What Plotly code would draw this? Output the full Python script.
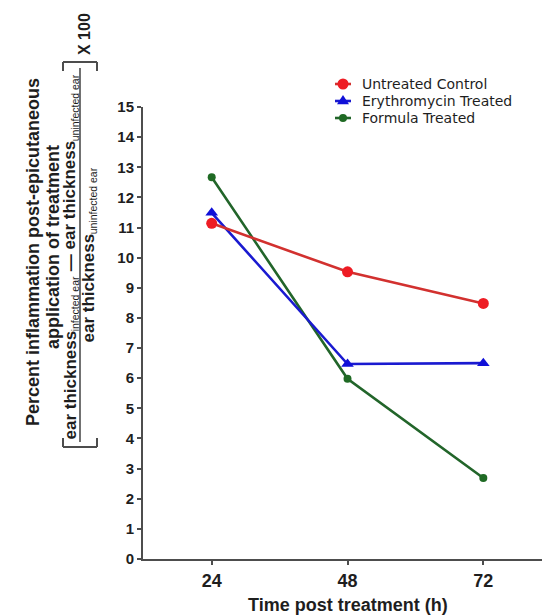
import plotly.graph_objects as go

# ---- data ----
hours = [24, 48, 72]
untreated = [11.14, 9.53, 8.48]
erythromycin = [11.49, 6.47, 6.50]
formula = [12.67, 5.98, 2.69]

series_names = ["Untreated Control", "Erythromycin Treated", "Formula Treated"]
x_ticks = [24, 48, 72]
y_ticks = list(range(0, 16))

# ---- layout constants (pixels) ----
W, H = 542, 615
L, R, T, B = 143, 0, 107, 56
PW, PH = W - L - R, H - T - B
FONT = "Liberation Sans, Arial, sans-serif"
LEG_FONT = "DejaVu Sans, sans-serif"
TXT = "#1e1e1e"
AX = "#4d4d4d"

def xp(px):
    return (px - L) / PW

def yp(py):
    return (H - B - py) / PH

styles = {
    "Untreated Control": dict(line="#d2312f", marker="#ee1c24", symbol="circle", size=11),
    "Erythromycin Treated": dict(line="#1a1ad0", marker="#1010d8", symbol="triangle-up", size=11),
    "Formula Treated": dict(line="#22652a", marker="#1f6a24", symbol="circle", size=8),
}
values = {"Untreated Control": untreated, "Erythromycin Treated": erythromycin, "Formula Treated": formula}

fig = go.Figure()
for name in ["Formula Treated", "Erythromycin Treated", "Untreated Control"]:
    st = styles[name]
    fig.add_trace(go.Scatter(
        x=hours, y=values[name], mode="lines+markers", name=name,
        line=dict(color=st["line"], width=2.6),
        marker=dict(color=st["marker"], symbol=st["symbol"], size=st["size"], line=dict(width=0)),
        showlegend=False,
    ))

shapes = []
annotations = []

# ---- manual legend (compact rows like the reference) ----
leg_x_sym = 343
leg_x_txt = 361
leg_rows = [84, 101, 118]
for name, py in zip(series_names, leg_rows):
    st = styles[name]
    shapes.append(dict(type="line", xref="paper", yref="paper",
                       x0=xp(leg_x_sym - 8), x1=xp(leg_x_sym + 8), y0=yp(py), y1=yp(py),
                       line=dict(color=st["line"], width=2.6)))
    r = st["size"] / 2
    if st["symbol"] == "circle":
        shapes.append(dict(type="circle", xref="paper", yref="paper",
                           x0=xp(leg_x_sym - r), x1=xp(leg_x_sym + r),
                           y0=yp(py + r), y1=yp(py - r),
                           fillcolor=st["marker"], line=dict(width=0)))
    else:
        path = "M {:.5f},{:.5f} L {:.5f},{:.5f} L {:.5f},{:.5f} Z".format(
            xp(leg_x_sym), yp(py - r - 0.5),
            xp(leg_x_sym - r - 0.5), yp(py + r * 0.6),
            xp(leg_x_sym + r + 0.5), yp(py + r * 0.6))
        shapes.append(dict(type="path", xref="paper", yref="paper", path=path,
                           fillcolor=st["marker"], line=dict(width=0)))
    annotations.append(dict(xref="paper", yref="paper", x=xp(leg_x_txt), y=yp(py),
                            xanchor="left", yanchor="middle", showarrow=False, borderpad=0,
                            text=name, font=dict(family=LEG_FONT, size=14, color=TXT)))

# ---- y-axis label block ----
def rot_text(text, px, py, size, bold=True, yanchor="middle"):
    annotations.append(dict(xref="paper", yref="paper", x=xp(px), y=yp(py),
                            xanchor="center", yanchor=yanchor, showarrow=False,
                            textangle=-90, text=text, borderpad=0,
                            font=dict(family=FONT, size=size, color=TXT,
                                      weight="bold" if bold else "normal")))

rot_text("Percent inflammation post-epicutaneous", 33, 252, 18)
rot_text("application of treatment", 53, 247, 18)

MAIN, SUB = 17, 10.5
# (text, is_subscript, length in em) -- Arial/Liberation metrics
num_pieces = [("ear thickness", False, 6.39), ("infected ear", True, 5.23),
              ("—", False, 1.556), ("ear thickness", False, 6.39), ("uninfected ear", True, 6.345)]
den_pieces = [("ear thickness", False, 6.39), ("uninfected ear", True, 6.345)]

def place_pieces(pieces, col_x, y_start):
    y = y_start
    for text, is_sub, em in pieces:
        size = SUB if is_sub else MAIN
        length = em * size
        if text == "—":
            rot_text(text, col_x, y - 0.278 * size, size, bold=True, yanchor="bottom")
        else:
            rot_text(text, col_x + (4.5 if is_sub else 0), y, size, bold=not is_sub, yanchor="bottom")
        y -= length

place_pieces(num_pieces, 70, 441)
place_pieces(den_pieces, 88, 344)
rot_text("X 100", 85, 34, 16)

# fraction bar
shapes.append(dict(type="line", xref="paper", yref="paper",
                   x0=xp(80), x1=xp(80), y0=yp(68), y1=yp(442),
                   line=dict(color=AX, width=1.6)))
# brackets
for y_end, y_tip in [(447, 438), (62, 71)]:
    shapes.append(dict(type="line", xref="paper", yref="paper",
                       x0=xp(63), x1=xp(97), y0=yp(y_end), y1=yp(y_end),
                       line=dict(color=AX, width=2)))
    for bx in (63, 97):
        shapes.append(dict(type="line", xref="paper", yref="paper",
                           x0=xp(bx), x1=xp(bx), y0=yp(y_end), y1=yp(y_tip),
                           line=dict(color=AX, width=2)))

# x-axis title
annotations.append(dict(xref="x", yref="paper", x=48, y=yp(605),
                        xanchor="center", yanchor="middle", showarrow=False,
                        text="Time post treatment (h)",
                        font=dict(family=FONT, size=18, color=TXT, weight="bold")))

fig.update_layout(
    width=W, height=H,
    margin=dict(l=L, r=R, t=T, b=B, pad=0),
    paper_bgcolor="white", plot_bgcolor="white",
    shapes=shapes, annotations=annotations,
    xaxis=dict(range=[11.86, 82.37], tickvals=x_ticks, ticktext=[str(v) for v in x_ticks],
               showgrid=False, zeroline=False, showline=True, linecolor=AX, linewidth=2,
               ticks="outside", ticklen=4, tickwidth=1.5, tickcolor=AX,
               tickfont=dict(family=FONT, size=18, color=TXT, weight="bold")),
    yaxis=dict(range=[0, 15], tickvals=y_ticks, ticktext=[str(v) for v in y_ticks],
               showgrid=False, zeroline=False, showline=True, linecolor=AX, linewidth=2,
               ticks="outside", ticklen=4, tickwidth=1.5, tickcolor=AX,
               tickfont=dict(family=FONT, size=15, color=TXT, weight="bold")),
    showlegend=False,
)

fig.write_html("out.html")
